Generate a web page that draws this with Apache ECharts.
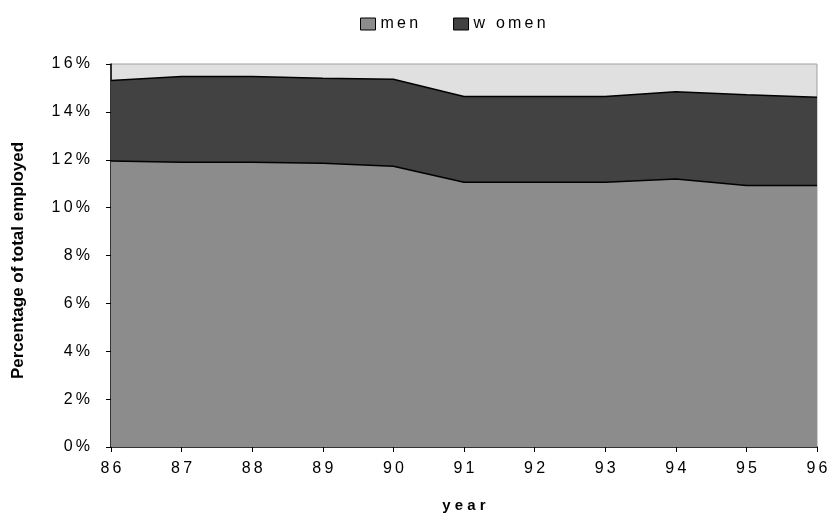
<!DOCTYPE html>
<html><head><meta charset="utf-8">
<script src="https://cdn.jsdelivr.net/npm/echarts@6/dist/echarts.min.js"></script>
<style>html,body{margin:0;padding:0;background:#fff}#c{width:829px;height:513px}</style>
</head><body><div id="c"></div>
<script>
const years = ['86','87','88','89','90','91','92','93','94','95','96'];
const men = [11.95, 11.9, 11.9, 11.85, 11.73, 11.06, 11.06, 11.06, 11.2, 10.92, 10.92];
const women = [3.36, 3.58, 3.58, 3.55, 3.63, 3.58, 3.58, 3.58, 3.64, 3.8, 3.69];
const yTicks = [0, 2, 4, 6, 8, 10, 12, 14, 16];

const sp = s => String(s).split('').join('\u2009');
const chart = echarts.init(document.getElementById('c'));
chart.setOption({
  animation: false,
  textStyle: { fontFamily: 'Liberation Sans, Arial, sans-serif' },
  legend: {
    top: 11, left: 355,
    itemWidth: 15, itemHeight: 12, itemGap: 35,
    textStyle: { fontSize: 16, color: '#000' },
    formatter: n => sp(n),
    data: [
      { name: 'men', icon: 'rect', itemStyle: { color: '#8c8c8c', borderColor: '#000', borderWidth: 1 } },
      { name: 'w omen', icon: 'rect', itemStyle: { color: '#424242', borderColor: '#000', borderWidth: 1 } }
    ]
  },
  grid: { left: 111, right: 12, top: 64, bottom: 66, containLabel: false, outerBoundsMode: 'none',
          show: true, backgroundColor: '#e0e0e0', borderColor: '#a0a0a0', borderWidth: 1 },
  xAxis: {
    type: 'category', data: years, boundaryGap: false,
    name: 'y e a r', nameLocation: 'middle', nameGap: 51,
    nameTextStyle: { fontWeight: 'bold', fontSize: 15, color: '#000' },
    axisLine: { lineStyle: { color: '#000', width: 1.5 } },
    axisTick: { show: true, length: 5, lineStyle: { color: '#000' } },
    axisLabel: { fontSize: 16, color: '#000', margin: 14, formatter: v => sp(v) },
    splitLine: { show: false }
  },
  yAxis: {
    type: 'value', min: 0, max: 16, interval: 2,
    name: 'Percentage of total employed', nameLocation: 'middle', nameGap: 84,
    nameTextStyle: { fontWeight: 'bold', fontSize: 17, color: '#000', padding: [0, 10, 0, 0] },
    axisLine: { show: true, lineStyle: { color: '#000', width: 1.5 } },
    axisTick: { show: true, length: 5, lineStyle: { color: '#000' } },
    axisLabel: { fontSize: 16, color: '#000', margin: 21, formatter: v => sp(v + '%') },
    splitLine: { show: false }
  },
  series: [
    { name: 'men', type: 'line', stack: 't', data: men, symbol: 'none',
      lineStyle: { color: '#000', width: 1.5 }, itemStyle: { color: '#8c8c8c' },
      areaStyle: { color: '#8c8c8c', opacity: 1 } },
    { name: 'w omen', type: 'line', stack: 't', data: women, symbol: 'none',
      lineStyle: { color: '#000', width: 1.5 }, itemStyle: { color: '#424242' },
      areaStyle: { color: '#424242', opacity: 1 } }
  ]
});
</script></body></html>
